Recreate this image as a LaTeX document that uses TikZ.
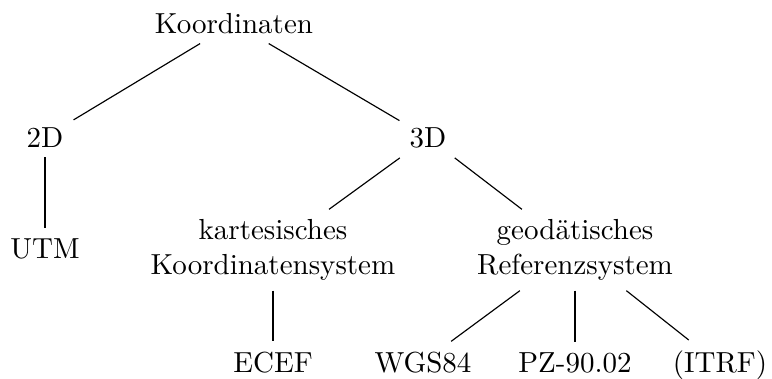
\documentclass[tikz,border=0pt]{standalone}
\begin{document}
\begin{tikzpicture}[x=0.3448pt,y=-0.3448pt,
  lbl/.style={inner sep=3.33pt, font=\normalsize},
  lblb/.style={lbl, anchor=base},
  lblm/.style={lbl, align=center}]
\useasboundingbox (0,0) rectangle (772,378);
\node[lblb] (k) at (234,33) {Koordinaten};
\node[lblb] (d2) at (45,147) {2D};
\node[lblb] (d3) at (428,147) {3D};
\node[lblb] (utm) at (45,258) {UTM};
\node[lblm] (kart) at (273,250) {kartesisches\\Koordinatensystem};
\node[lblm] (geo) at (575,250) {geodätisches\\Referenzsystem};
\node[lblb] (ecef) at (273,372) {ECEF};
\node[lblb] (wgs) at (423,372) {WGS84};
\node[lblb] (pz) at (575,372) {PZ-90.02};
\node[lblb] (itrf) at (720,372) {(ITRF)};
\draw (k) -- (d2);
\draw (k) -- (d3);
\draw (d2) -- (utm);
\draw (d3) -- (kart);
\draw (d3) -- (geo);
\draw (kart) -- (ecef);
\draw (geo) -- (wgs);
\draw (geo) -- (pz);
\draw (geo) -- (itrf);
\end{tikzpicture}
\end{document}
